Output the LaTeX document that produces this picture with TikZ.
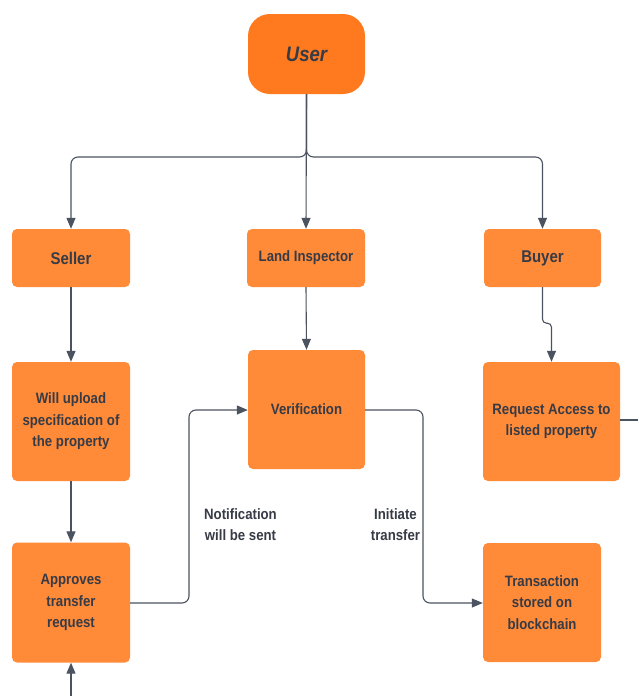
\documentclass[tikz,border=0pt]{standalone}
\usepackage{fontspec}
\setmainfont{Liberation Sans}[FakeStretch=0.88]
\usetikzlibrary{arrows.meta}
\definecolor{boxfill}{HTML}{FF8A38}
\definecolor{userfill}{HTML}{FF7A1E}
\definecolor{txt}{HTML}{363B46}
\definecolor{ln}{HTML}{4B5260}
\tikzset{
  box/.style={fill=boxfill, rounded corners=5pt, text=txt, align=center,
    font=\fontsize{15}{21.5}\selectfont\bfseries, inner sep=2pt},
  conn/.style={draw=ln, line width=1.1pt, rounded corners=7pt,
    -{Triangle[length=11pt,width=9pt]}},
  plain/.style={draw=ln, line width=1.1pt, rounded corners=7pt},
  lbl/.style={text=txt, align=center, font=\fontsize{15}{21.5}\selectfont\bfseries}
}
\begin{document}
\begin{tikzpicture}[x=1pt,y=-1pt]
\useasboundingbox (0,0) rectangle (638,696);
\fill[white] (0,0) rectangle (638,696);
\node[fill=userfill, rounded corners=22pt, text=txt, minimum width=117pt, minimum height=80pt,
  font=\fontsize{21}{24}\selectfont\bfseries\itshape] (user) at (306.5,54) {User};
\node[box, minimum width=118pt, minimum height=58pt, font=\fontsize{17}{21.5}\selectfont\bfseries] (seller) at (71,258) {Seller};
\node[box, minimum width=118pt, minimum height=58pt] (li) at (306,258) {Land Inspector};
\node[box, minimum width=117pt, minimum height=58pt, font=\fontsize{17}{21.5}\selectfont\bfseries] (buyer) at (542.5,258) {Buyer};
\node[box, minimum width=118pt, minimum height=119pt] (upload) at (71,421.5) {Will upload\\specification of\\the property};
\node[box, minimum width=118pt, minimum height=120pt] (approve) at (71,602.5) {Approves\\transfer\\request};
\node[box, minimum width=117pt, minimum height=119pt] (verify) at (306.5,409.5) {Verification};
\node[box, minimum width=137pt, minimum height=119pt] (request) at (551.5,421.5) {Request Access to\\listed property};
\node[box, minimum width=118pt, minimum height=119pt] (trans) at (542,602.5) {Transaction\\stored on\\blockchain};
\node[lbl] (notif) at (240.5,524.5) {Notification\\will be sent};
\node[lbl] (init) at (395.5,524.5) {Initiate\\transfer};
\coordinate (bottomend) at (71,696);
\coordinate (rightend) at (638,420);
% connectors
\draw[conn] (user.south) |- (190,157) -| (seller.north);
\draw[conn] (user.south) -- (li.north);
\draw[conn] (user.south) |- (450,157) -| (buyer.north);
\draw[conn] (seller.south) -- (upload.north);
\draw[conn] (li.south) -- (verify.north);
\draw[conn, rounded corners=4pt] (buyer.south) -- ++(0,36) -| (request.north);
\draw[plain] (request.east |- rightend) -- (rightend);
\draw[conn] (upload.south) -- (approve.north);
\draw[conn] (approve.east |- 0,603) -| (189,480) |- (verify.west |- 0,410);
\draw[conn] (verify.east |- 0,410) -| (423,520) |- (trans.west |- 0,603);
\draw[conn] (bottomend) -- (approve.south);
\end{tikzpicture}
\end{document}
